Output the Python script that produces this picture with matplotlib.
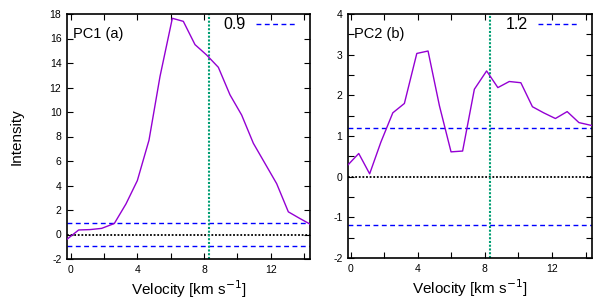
import matplotlib
matplotlib.use("Agg")
import matplotlib.pyplot as plt
from matplotlib.lines import Line2D
from matplotlib.ticker import MultipleLocator

plt.rcParams['font.family'] = ['Liberation Sans', 'DejaVu Sans']
plt.rcParams['axes.unicode_minus'] = False

# PC1 spectrum
v1 = [-0.22, 0.48, 1.16, 1.86, 2.62, 3.32, 4.0, 4.70, 5.36, 6.10, 6.76, 7.46,
      8.16, 8.86, 9.56, 10.26, 10.96, 11.66, 12.36, 13.06, 13.76, 14.36]
i1 = [-0.39, 0.37, 0.40, 0.50, 0.90, 2.5, 4.4, 7.7, 12.9, 17.65, 17.4, 15.5,
      14.65, 13.65, 11.4, 9.75, 7.45, 5.8, 4.15, 1.85, 1.3, 0.85]
# PC2 spectrum
v2 = [-0.16, 0.48, 1.13, 1.80, 2.51, 3.20, 3.94, 4.61, 5.29, 5.98, 6.67, 7.37,
      8.10, 8.77, 9.45, 10.14, 10.83, 11.50, 12.20, 12.90, 13.60, 14.34]
i2 = [0.29, 0.57, 0.07, 0.85, 1.57, 1.80, 3.03, 3.09, 1.74, 0.61, 0.63, 2.15,
      2.60, 2.19, 2.34, 2.31, 1.72, 1.57, 1.43, 1.60, 1.33, 1.26]

thresholds = [0.9, 1.2]
vline = 8.3
labels = ["PC1 (a)", "PC2 (b)"]
xlims = [(-0.22, 14.36), (-0.16, 14.38)]
ylims = [(-2, 18), (-2, 4)]
ymajor = [2, 1]
yminor = [None, 0.5]

fig = plt.figure(figsize=(6.09, 3.05), dpi=100)
ax1 = fig.add_axes([67/609, 1-259/305, 243/609, 245/305])
ax2 = fig.add_axes([348/609, 1-258/305, 244/609, 244/305])

purple = '#9400D3'
blue = '#0000FF'
green = '#009E73'

for k, (ax, v, inten) in enumerate([(ax1, v1, i1), (ax2, v2, i2)]):
    t = thresholds[k]
    ax.plot(v, inten, color=purple, lw=1.0, zorder=3)
    ax.axhline(t, color=blue, lw=1.0, ls=(0, (3.5, 2.5)), zorder=2)
    ax.axhline(-t, color=blue, lw=1.0, ls=(0, (3.5, 2.5)), zorder=2)
    ax.axhline(0, color='black', lw=1.3, ls=(0, (1, 1.0)), zorder=2)
    ax.axvline(vline, color=green, lw=1.5, ls=(0, (1, 0.8)), zorder=2)
    ax.set_xlim(*xlims[k])
    ax.set_ylim(*ylims[k])
    ax.xaxis.set_major_locator(MultipleLocator(4))
    ax.xaxis.set_minor_locator(MultipleLocator(2))
    ax.yaxis.set_major_locator(MultipleLocator(ymajor[k]))
    if yminor[k]:
        ax.yaxis.set_minor_locator(MultipleLocator(yminor[k]))
    ax.tick_params(which='both', direction='in', top=True, right=True,
                   labelsize=7.5, width=0.8, pad=4)
    ax.tick_params(which='major', length=4.5)
    ax.tick_params(which='minor', length=4.5)
    for s in ax.spines.values():
        s.set_linewidth(1.2)
    ax.set_xlabel("Velocity [km s$^{-1}$]", fontsize=11, labelpad=3)
    ax.text(0.025, 0.918, labels[k], transform=ax.transAxes, fontsize=10.5,
            ha='left', va='center')
    h = Line2D([0], [0], color=blue, lw=1.0, ls=(0, (3.5, 2.5)))
    leg = ax.legend([h], [f"{t}"], loc='upper right', frameon=False,
                    markerfirst=False, fontsize=11.5, handlelength=2.5,
                    handletextpad=0.65, borderaxespad=0.0, borderpad=0.2,
                    bbox_to_anchor=(0.955, 1.0))

ax1.set_ylabel("Intensity", fontsize=11, labelpad=19)

fig.savefig("out.png", dpi=100)
